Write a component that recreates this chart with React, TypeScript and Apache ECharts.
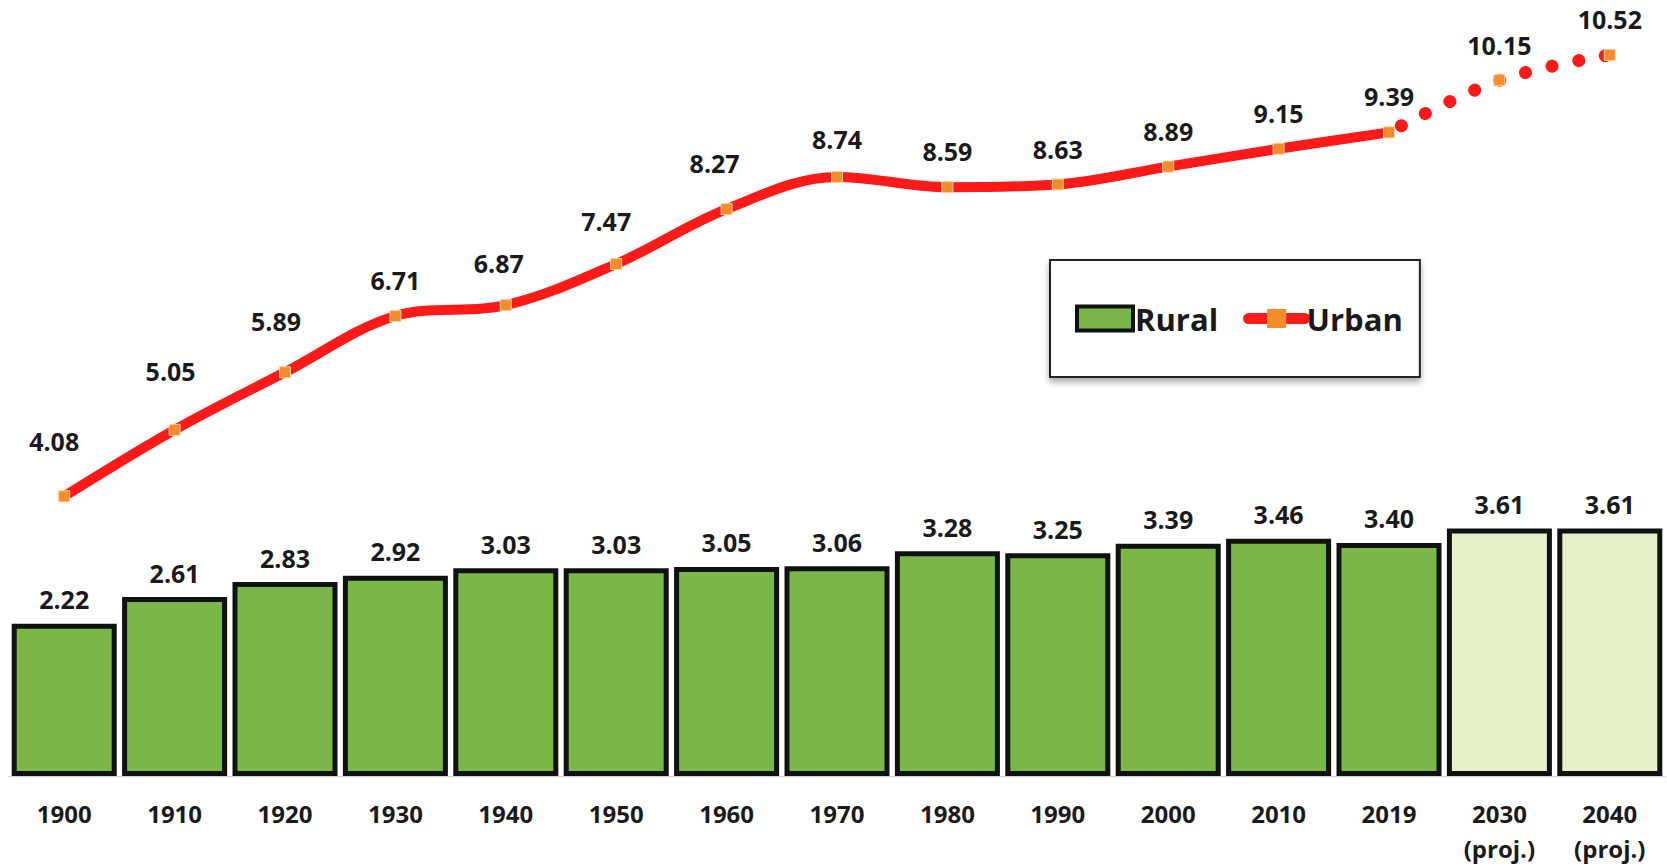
import React, { useEffect, useRef } from "react";
import * as echarts from "echarts";

const categories = [
  "1900", "1910", "1920", "1930", "1940", "1950", "1960", "1970",
  "1980", "1990", "2000", "2010", "2019", "2030\n(proj.)", "2040\n(proj.)",
];
const rural = [2.22, 2.61, 2.83, 2.92, 3.03, 3.03, 3.05, 3.06, 3.28, 3.25, 3.39, 3.46, 3.40, 3.61, 3.61];
const urban = [4.08, 5.05, 5.89, 6.71, 6.87, 7.47, 8.27, 8.74, 8.59, 8.63, 8.89, 9.15, 9.39, 10.15, 10.52];
const lastActualIndex = 12;

// label placement styling for the urban line (distance above point, x shift)
const urbanLabelDistance = [37, 40, 33, 18, 24, 24, 28, 19, 18, 17, 17, 17, 18, 17, 17];
const urbanLabelShift = [-10, -4, -9, 0, -7, -10, -12, 0, 0, 0, 0, 0, 0, 0, 0];

const FONT = "'Open Sans', 'DejaVu Sans', sans-serif";
const TEXT = "#1a1a1a";
const RED = "#ff1a1a";
const ORANGE = "#f58c2a";

export default function App() {
  const ref = useRef<HTMLDivElement>(null);

  useEffect(() => {
    if (!ref.current) return;
    const chart = echarts.init(ref.current, undefined, { renderer: "svg" });

    const barData = rural.map((v, i) =>
      i > lastActualIndex
        ? { value: v, itemStyle: { color: "#e6f1cc" } }
        : { value: v }
    );

    const mkLinePoint = (v: number, i: number) => ({
      value: v,
      label: {
        distance: urbanLabelDistance[i],
        offset: [urbanLabelShift[i], 0],
      },
    });

    const solidData = urban.map((v, i) => (i <= lastActualIndex ? mkLinePoint(v, i) : null));
    const projData = urban.map((v, i) =>
      i >= lastActualIndex
        ? i === lastActualIndex
          ? { value: v, label: { show: false }, symbolSize: 0 }
          : mkLinePoint(v, i)
        : null
    );

    const lineLabel = {
      show: true,
      position: "top",
      fontFamily: FONT,
      fontWeight: "bold",
      fontSize: 25,
      color: TEXT,
      formatter: (p: any) => Number(p.value).toFixed(2),
    };

    chart.setOption({
      animation: false,
      textStyle: { fontFamily: FONT },
      grid: { left: 9, right: 2, top: 22, bottom: 88, containLabel: false },
      legend: {
        data: [
          {
            name: "Rural",
            icon: "rect",
            itemStyle: { color: "#7ab648", borderColor: "#111111", borderWidth: 4 },
          },
          {
            name: "Urban",
            lineStyle: { color: RED, width: 11, cap: "round" },
            itemStyle: { color: ORANGE, borderWidth: 0 },
          },
        ],
        left: 1050,
        top: 260,
        padding: [43, 17, 43, 25],
        itemWidth: 56,
        itemHeight: 24,
        itemGap: 25,
        backgroundColor: "#ffffff",
        borderColor: "#222222",
        borderWidth: 2,
        shadowBlur: 6,
        shadowColor: "rgba(0,0,0,0.35)",
        shadowOffsetY: 4,
        textStyle: {
          fontFamily: FONT,
          fontWeight: "bold",
          fontSize: 31,
          color: TEXT,
          padding: [0, 0, 0, -3],
        },
      },
      xAxis: {
        type: "category",
        data: categories,
        axisTick: { show: false },
        axisLine: { show: true, lineStyle: { color: "#d0d0d0", width: 1 } },
        axisLabel: {
          fontFamily: FONT,
          fontWeight: "bold",
          fontSize: 24,
          color: TEXT,
          margin: 20,
          lineHeight: 35,
          interval: 0,
        },
      },
      yAxis: {
        type: "value",
        min: 0,
        max: 11,
        show: false,
        splitLine: { show: false },
      },
      series: [
        {
          name: "Rural",
          type: "bar",
          data: barData,
          barWidth: 105,
          itemStyle: {
            color: "#7ab648",
            borderColor: "#111111",
            borderWidth: 5,
          },
          label: {
            show: true,
            position: "top",
            distance: 12,
            fontFamily: FONT,
            fontWeight: "bold",
            fontSize: 25,
            color: TEXT,
            formatter: (p: any) => Number(p.value).toFixed(2),
          },
          z: 1,
        },
        {
          name: "Urban",
          type: "line",
          data: solidData,
          smooth: 0.35,
          connectNulls: false,
          symbol: "rect",
          symbolSize: 11,
          lineStyle: { color: RED, width: 10, cap: "round" },
          itemStyle: { color: ORANGE, borderColor: "#fcd0a0", borderWidth: 1 },
          label: lineLabel,
          z: 3,
        },
        {
          name: "Urban projection",
          type: "line",
          data: projData,
          smooth: 0.35,
          connectNulls: false,
          symbol: "rect",
          symbolSize: 11,
          lineStyle: { color: RED, width: 13, type: [0.1, 27], cap: "round", dashOffset: -14 },
          itemStyle: { color: ORANGE, borderColor: "#fcd0a0", borderWidth: 1 },
          label: lineLabel,
          z: 3,
        },
      ],
    });

    return () => chart.dispose();
  }, []);

  return (
    <div
      ref={ref}
      style={{ position: "absolute", left: 0, top: 0, width: 1667, height: 866, background: "#fff" }}
    />
  );
}
